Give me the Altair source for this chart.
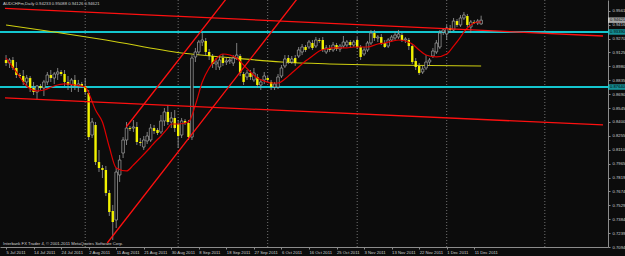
import altair as alt
import pandas as pd

title_text = "AUDCHFm,Daily  0.94233 0.95088 0.94126 0.94621"
copyright_text = "Interbank FX Trader 4, \u00a9 2001-2011 MetaQuotes Software Corp."

date_labels = ["5 Jul 2011", "14 Jul 2011", "24 Jul 2011", "2 Aug 2011", "11 Aug 2011",
               "21 Aug 2011", "30 Aug 2011", "8 Sep 2011", "18 Sep 2011", "27 Sep 2011",
               "6 Oct 2011", "16 Oct 2011", "25 Oct 2011", "3 Nov 2011", "13 Nov 2011",
               "22 Nov 2011", "1 Dec 2011", "11 Dec 2011"]
date_label_bars = [0, 8, 16, 24, 32, 40, 48, 56, 64, 72, 80, 88, 96, 104, 112, 120, 128, 136]

price_ticks = [0.95610, 0.94160, 0.92705, 0.91255, 0.89805, 0.88355, 0.86900, 0.85450, 0.84000,
               0.82550, 0.81100, 0.79650, 0.78195, 0.76745, 0.75295, 0.73840, 0.72390, 0.70940]

opens = [.9046, .9015, .9046, .8963, .8890, .8879, .8817, .8858, .8754, .8712,
         .8775, .8754, .8817, .8890, .8858, .8900, .8921, .8900, .8817, .8785,
         .8838, .8775, .8796, .8775, .8702, .8263, .8368, .7981, .7919, .7898,
         .7658, .7470, .7376, .7846, .8075, .8211, .8336, .8336, .8347, .8190,
         .8138, .8201, .8211, .8336, .8316, .8295, .8410, .8504, .8399, .8441,
         .8378, .8263, .8410, .8389, .8242, .9078, .9130, .9234, .9245, .9130,
         .9088, .9005, .8973, .9067, .9025, .9036, .9015, .9067, .9088, .8900,
         .8869, .8911, .8838, .8869, .8785, .8838, .8858, .8817, .8764, .8764,
         .8879, .8984, .9067, .9025, .9067, .9088, .9130, .9182, .9182, .9224,
         .9192, .9255, .9255, .9130, .9172, .9151, .9203, .9161, .9192, .9203,
         .9234, .9203, .9255, .9182, .9109, .9151, .9224, .9328, .9276, .9286,
         .9224, .9192, .9255, .9276, .9286, .9307, .9255, .9255, .9192, .9036,
         .8984, .8921, .8963, .9025, .9088, .9130, .9182, .9339, .9318, .9380,
         .9360, .9453, .9412, .9485, .9506, .9391, .9443, .9433, .94233]
highs = [.9098, .9067, .9078, .9025, .8911, .8942, .8890, .8879, .8817, .8785,
         .8796, .8838, .8921, .8942, .8921, .8963, .8942, .8942, .8879, .8858,
         .8890, .8838, .8817, .8858, .8733, .8441, .8399, .8107, .7950, .7940,
         .7689, .7533, .7919, .8054, .8242, .8399, .8357, .8420, .8399, .8232,
         .8253, .8295, .8378, .8368, .8336, .8472, .8545, .8577, .8504, .8524,
         .8420, .8441, .8430, .8420, .9098, .9172, .9255, .9328, .9276, .9161,
         .9109, .9067, .9088, .9109, .9067, .9078, .9098, .9224, .9109, .8921,
         .8942, .8942, .8963, .8900, .8848, .8921, .8879, .8838, .8817, .8900,
         .8994, .9098, .9098, .9088, .9098, .9182, .9213, .9203, .9255, .9255,
         .9286, .9276, .9286, .9203, .9203, .9234, .9224, .9213, .9297, .9255,
         .9255, .9255, .9286, .9203, .9182, .9245, .9360, .9360, .9307, .9318,
         .9255, .9276, .9307, .9339, .9360, .9328, .9286, .9276, .9213, .9067,
         .9015, .8984, .9098, .9067, .9172, .9255, .9360, .9380, .9412, .9412,
         .9485, .9474, .9516, .9547, .9527, .9464, .9464, .9474, .95088]
lows = [.8984, .8963, .8942, .8858, .8858, .8785, .8754, .8712, .8681, .8629,
        .8733, .8670, .8785, .8817, .8796, .8838, .8879, .8775, .8733, .8712,
        .8733, .8712, .8754, .8681, .8211, .8232, .7950, .7877, .7814, .7626,
        .7418, .7167, .7292, .7773, .8023, .8159, .8305, .8295, .8159, .8148,
        .8107, .8169, .8190, .8274, .8263, .8274, .8357, .8368, .8336, .8295,
        .8128, .8232, .8368, .8211, .8211, .9025, .9098, .9192, .9098, .9046,
        .8963, .8942, .8942, .8984, .8994, .9005, .8984, .9046, .8879, .8785,
        .8838, .8838, .8817, .8754, .8733, .8796, .8817, .8733, .8733, .8744,
        .8858, .8963, .9005, .9005, .8984, .9067, .9098, .9130, .9161, .9151,
        .9172, .9224, .9130, .9109, .9130, .9130, .9140, .9130, .9172, .9182,
        .9182, .9182, .9161, .9046, .9088, .9130, .9203, .9245, .9234, .9203,
        .9172, .9172, .9234, .9255, .9266, .9234, .9224, .9151, .9005, .8942,
        .8890, .8900, .8942, .8984, .9067, .9109, .9161, .9307, .9255, .9328,
        .9349, .9391, .9391, .9464, .9391, .9328, .9422, .9412, .94126]
closes = [.9015, .9046, .8963, .8890, .8879, .8817, .8858, .8754, .8712, .8775,
          .8754, .8817, .8890, .8858, .8900, .8921, .8900, .8817, .8785, .8838,
          .8775, .8796, .8775, .8712, .8242, .8399, .7981, .7919, .7898, .7658,
          .7459, .7355, .7877, .8002, .8211, .8336, .8326, .8347, .8190, .8180,
          .8211, .8253, .8336, .8305, .8284, .8410, .8504, .8399, .8441, .8336,
          .8253, .8410, .8389, .8242, .9067, .9130, .9234, .9255, .9130, .9088,
          .9005, .9025, .9046, .9015, .9036, .9046, .9067, .9098, .8911, .8817,
          .8911, .8869, .8911, .8785, .8817, .8879, .8838, .8764, .8796, .8869,
          .8963, .9057, .9025, .9057, .9015, .9151, .9182, .9151, .9234, .9172,
          .9255, .9245, .9151, .9172, .9151, .9203, .9161, .9192, .9234, .9234,
          .9203, .9234, .9182, .9078, .9151, .9224, .9328, .9276, .9286, .9224,
          .9182, .9255, .9286, .9307, .9318, .9255, .9266, .9192, .9025, .8973,
          .8911, .8952, .9025, .9046, .9140, .9224, .9328, .9360, .9380, .9360,
          .9453, .9412, .9485, .9516, .9412, .9443, .9433, .9453, .94621]

ma_bars = [0, 3, 6, 9, 11, 14, 17, 20, 23, 24, 26, 28, 30, 32, 35, 37, 39, 42, 43, 45, 47, 48,
           50, 53, 55, 57, 59, 61, 63, 65, 67, 69, 71, 73, 75, 77, 79, 81, 83, 85, 87, 89, 91,
           93, 95, 99, 101, 105, 108, 110, 114, 116, 118, 120, 122, 125, 128, 130, 132, 133,
           135, 137, 138]
ma_vals = [.9067, .8921, .8775, .8723, .8733, .8775, .8796, .8785, .8764, .8702, .8524, .8399,
           .8138, .7919, .7888, .7950, .8023, .8138, .8180, .8253, .8336, .8378,
           .8378, .8399, .8577, .8817, .8963, .9057, .9109, .9098, .9067, .8994, .8921,
           .8858, .8827, .8806, .8806, .8848, .8911, .8973, .9036, .9088, .9140,
           .9161, .9172, .9172, .9182, .9182, .9213, .9224, .9255, .9245, .9213, .9151,
           .9098, .9078, .9109, .9192, .9286, .9339, .9412, .9443, .9443]

sma_bars = [0, 14, 29, 51, 66, 80, 94, 108, 138]
sma_vals = [.9412, .9339, .9255, .9119, .9067, .9025, .9005, .8994, .8984]

month_sep_bars = [23, 50, 76, 102, 128, 156.5]
hline_prices = [0.93390, 0.87640]

trend_names = ["down_upper", "down_upper", "down_lower", "down_lower",
               "up_lower", "up_lower", "up_upper", "up_upper"]
trend_bars = [-0.3, 173.4, -0.3, 173.4, 29.4, 90.0, 34.9, 70.0]
trend_prices = [.9586, .9297, .8650, .8368, .7136, .9936, .8347, .9963]

box_prices = [0.94621, 0.93390, 0.87640]
box_labels = ["0.94621", "0.93390", "0.87640"]
box_colors = ["#e8e8e8", "#19c9d2", "#19c9d2"]

# ---------------------------------------------------------------
W, H = 608, 247
XDOM = [-0.3, 173.4]
YDOM = [0.70940, 0.96727]
FONT = "Liberation Sans"
GRAY = "#8c8c8c"

label_expr = "[" + ",".join("'" + s + "'" for s in date_labels) + "][round(datum.value/8)]"

x_axis = alt.Axis(values=date_label_bars, labelExpr=label_expr, title=None, grid=False,
                  labelAlign="left", labelFontSize=4.2, labelFont=FONT, labelColor="#d0d0d0",
                  tickSize=2, tickColor=GRAY, domainColor=GRAY, labelPadding=1,
                  labelOverlap=False, labelFlush=False)
y_axis = alt.Axis(values=price_ticks, format=".5f", title=None, grid=False, orient="right",
                  labelFontSize=4.2, labelFont=FONT, labelColor="#d0d0d0", tickSize=2,
                  tickColor=GRAY, domainColor=GRAY, labelPadding=2, labelOverlap=False,
                  labelFlush=False)


def X(field):
    return alt.X(field, type="quantitative",
                 scale=alt.Scale(domain=XDOM, nice=False, zero=False), axis=x_axis)


def Y(field):
    return alt.Y(field, type="quantitative",
                 scale=alt.Scale(domain=YDOM, nice=False, zero=False), axis=y_axis)


candles = pd.DataFrame({"i": list(range(len(opens))), "o": opens, "h": highs,
                        "l": lows, "c": closes})
candles["bull"] = candles["c"] >= candles["o"]

ma_df = pd.DataFrame({"i": ma_bars, "p": ma_vals})
sma_df = pd.DataFrame({"i": sma_bars, "p": sma_vals})
sep_df = pd.DataFrame({"i": month_sep_bars})
hl_df = pd.DataFrame({"p": hline_prices})
tr_df = pd.DataFrame({"name": trend_names, "i": trend_bars, "p": trend_prices})
box_df = pd.DataFrame({"p": box_prices, "t": box_labels, "col": box_colors})

seps = alt.Chart(sep_df).mark_rule(color="#8a8a8a", strokeDash=[1, 2], strokeWidth=0.8).encode(
    x=X("i"))

hlines = alt.Chart(hl_df).mark_rule(color="#14c6cf", strokeWidth=2).encode(
    y=Y("p"))

sma = alt.Chart(sma_df).mark_line(color="#cfcf10", strokeWidth=1.1, interpolate="monotone").encode(
    x=X("i"), y=Y("p"))

wicks = alt.Chart(candles).mark_rule(color="#9a9a9a", strokeWidth=0.8).encode(
    x=X("i"), y=Y("l"), y2="h")

bear = alt.Chart(candles).transform_filter("!datum.bull").mark_bar(
    size=2.4, color="#f2f200").encode(x=X("i"), y=Y("o"), y2="c")

bull = alt.Chart(candles).transform_filter("datum.bull").mark_bar(
    size=2.6, fill="#0c0c0c", stroke="#a8a8a8", strokeWidth=0.7).encode(
    x=X("i"), y=Y("o"), y2="c")

ma = alt.Chart(ma_df).mark_line(color="#e00000", strokeWidth=1.2, interpolate="monotone").encode(
    x=X("i"), y=Y("p"))

trends = alt.Chart(tr_df).mark_line(color="#ff1010", strokeWidth=1.3, clip=True).encode(
    x=X("i"), y=Y("p"), detail="name:N")

boxes = alt.Chart(box_df).mark_tick(thickness=5.5, size=18, orient="horizontal").encode(
    y=Y("p"), x=alt.value(617), color=alt.Color("col:N", scale=None))

box_text = alt.Chart(box_df).mark_text(align="left", baseline="middle", fontSize=4.2,
                                       font=FONT, color="#000000").encode(
    y=Y("p"), x=alt.value(610), text="t:N")

header = alt.Chart(pd.DataFrame({"t": [title_text]})).mark_text(
    align="left", baseline="middle", fontSize=4.2, font=FONT, color="#d0d0d0").encode(
    x=alt.value(3), y=alt.value(4), text="t:N")

copyright_mark = alt.Chart(pd.DataFrame({"t": [copyright_text]})).mark_text(
    align="left", baseline="middle", fontSize=4.2, font=FONT, color="#d0d0d0").encode(
    x=alt.value(3), y=alt.value(244), text="t:N")

chart = alt.layer(seps, hlines, sma, wicks, bear, bull, ma, trends, boxes, box_text,
                  header, copyright_mark).properties(
    width=W, height=H,
    autosize=alt.AutoSizeParams(type="none"),
    padding={"left": 0, "top": 0, "right": 17, "bottom": 9},
    background="#0c0c0c",
).configure_view(stroke=None)

chart.save("out.html", embed_options={"renderer": "svg", "actions": False})
